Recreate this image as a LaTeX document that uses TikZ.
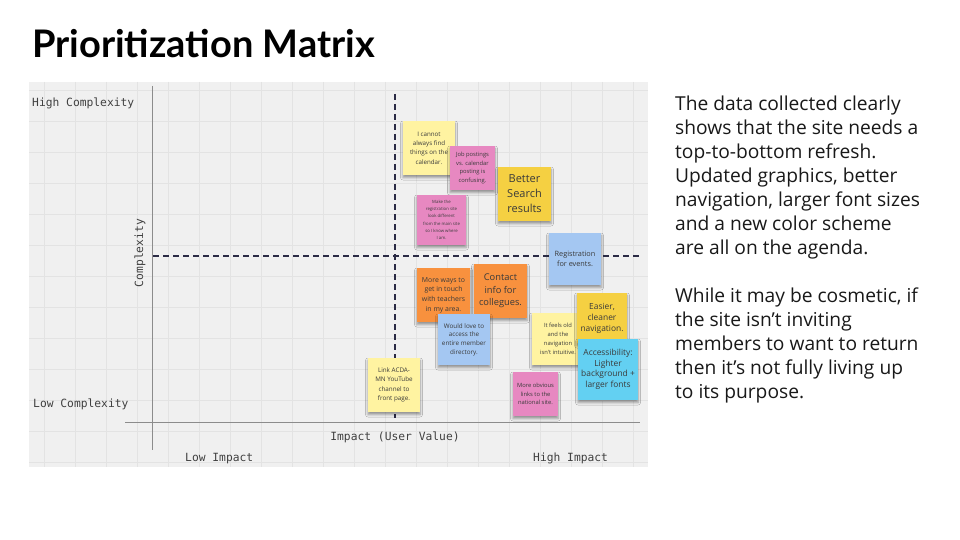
\documentclass[tikz,border=0pt]{standalone}
\usepackage{fontspec}
\setmainfont{Lato}
\newfontfamily\notefont{Open Sans}
\newfontfamily\labelfont{DejaVu Sans Mono}
\usetikzlibrary{shadows.blur}
\definecolor{bggray}{HTML}{F0F0F0}
\definecolor{gridgray}{HTML}{E3E3E3}
\definecolor{axisgray}{HTML}{8C8C8C}
\definecolor{dashnavy}{HTML}{2B2B45}
\definecolor{labelgray}{HTML}{404040}
\definecolor{notetext}{HTML}{3A3A3A}
\definecolor{paleyellow}{HTML}{FFF3A1}
\definecolor{pinknote}{HTML}{E788C1}
\definecolor{goldnote}{HTML}{F5D042}
\definecolor{bluenote}{HTML}{A4C7F2}
\definecolor{orangenote}{HTML}{F8913E}
\definecolor{cyannote}{HTML}{63D0F2}
\begin{document}
\begin{tikzpicture}[x=1pt,y=-1pt,
  sticky/.style={rectangle, fill=#1, inner sep=0pt, align=center, text=notetext,
    blur shadow={shadow xshift=0pt, shadow yshift=-2.5pt, shadow blur radius=2.5pt, shadow opacity=40}},
  axislabel/.style={inner sep=0pt, text=labelgray, font=\labelfont\fontsize{11.3}{13}\selectfont},
  axisline/.style={draw=axisgray, line width=0.9pt},
  quadline/.style={draw=dashnavy, line width=1.5pt, dash pattern=on 6pt off 4pt},
  bodytext/.style={anchor=north west, inner sep=0pt, align=left, text=black!90, font=\notefont\fontsize{19.2}{24}\selectfont}]
\useasboundingbox (0,0) rectangle (960,540);
\fill[white] (0,0) rectangle (960,540);

% title
\node[anchor=base west, inner sep=0pt, font=\bfseries\fontsize{38}{40}\selectfont] (title) at (32,58) {Prioritization Matrix};

% matrix background and grid
\fill[bggray] (29,82) rectangle (648,467);
\begin{scope}
\clip (29,82) rectangle (648,467);
\foreach \gx in {44,75,...,648} \draw[gridgray, line width=0.8pt] (\gx,82) -- (\gx,467);
\foreach \gy in {90,121,...,467} \draw[gridgray, line width=0.8pt] (29,\gy) -- (648,\gy);
\end{scope}

% axes
\coordinate (vtop) at (152,86);
\coordinate (vbot) at (152,450);
\coordinate (hleft) at (125,422);
\coordinate (hright) at (640,422);
\draw[axisline] (vtop) -- (vbot);
\draw[axisline] (hleft) -- (hright);

% quadrant dividers
\coordinate (dvtop) at (395,94);
\coordinate (dvbot) at (395,418);
\coordinate (dhleft) at (153,256);
\coordinate (dhright) at (640,256);
\draw[quadline] (dvtop) -- (dvbot);
\draw[quadline] (dhleft) -- (dhright);

% axis labels
\node[axislabel, anchor=base west] (highc) at (32,107) {High Complexity};
\node[axislabel, anchor=base west] (lowc) at (33,407) {Low Complexity};
\node[axislabel, rotate=90, anchor=base] (compl) at (143,253) {Complexity};
\node[axislabel, anchor=base] (impact) at (395,440) {Impact (User Value)};
\node[axislabel, anchor=base west] (lowi) at (185,461) {Low Impact};
\node[axislabel, anchor=base west] (highi) at (533,461) {High Impact};

% sticky notes
\node[sticky=paleyellow, minimum width=52, minimum height=54, font=\notefont\fontsize{6.2}{9.3}\selectfont] (n1) at (429,148) {I cannot\\always find\\things on the\\calendar.};
\node[sticky=pinknote, minimum width=45, minimum height=44, font=\notefont\fontsize{5.8}{8.6}\selectfont] (n2) at (472.5,168) {Job postings\\vs. calendar\\posting is\\confusing.};
\node[sticky=goldnote, minimum width=53, minimum height=54, font=\notefont\fontsize{11}{15}\selectfont] (n3) at (524.5,194) {Better\\Search\\results};
\node[sticky=pinknote, minimum width=49, minimum height=50, font=\notefont\fontsize{4.3}{7.3}\selectfont] (n4) at (441.5,220) {Make the\\registration site\\look different\\from the main site\\so I know where\\I am.};
\node[sticky=bluenote, minimum width=52, minimum height=52, font=\notefont\fontsize{7.3}{10.5}\selectfont] (n5) at (575,259) {Registration\\for events.};
\node[sticky=orangenote, minimum width=53, minimum height=54, font=\notefont\fontsize{6.9}{9.6}\selectfont] (n6) at (443.5,295) {More ways to\\get in touch\\with teachers\\in my area.};
\node[sticky=orangenote, minimum width=53, minimum height=54, font=\notefont\fontsize{9.3}{12.7}\selectfont] (n7) at (500.5,291) {Contact\\info for\\collegues.};
\node[sticky=bluenote, minimum width=52, minimum height=51, font=\notefont\fontsize{6.3}{8.7}\selectfont] (n8) at (464,339.5) {Would love to\\access the\\entire member\\directory.};
\node[sticky=paleyellow, minimum width=52, minimum height=54, font=\notefont\fontsize{6.3}{9.5}\selectfont] (n13) at (394,385) {Link ACDA-\\MN YouTube\\channel to\\front page.};
\node[sticky=paleyellow, minimum width=52, minimum height=52, font=\notefont\fontsize{5.8}{9}\selectfont] (n9) at (558,339) {It feels old\\and the\\navigation\\isn't intuitive.};
\node[sticky=goldnote, minimum width=50, minimum height=50, font=\notefont\fontsize{8.4}{11}\selectfont] (n10) at (602,318) {Easier,\\cleaner\\navigation.};
\node[sticky=cyannote, minimum width=60, minimum height=61, font=\notefont\fontsize{8.4}{10.6}\selectfont] (n11) at (608,369.5) {Accessibility:\\Lighter\\background +\\larger fonts};
\node[sticky=pinknote, minimum width=45, minimum height=44, font=\notefont\fontsize{5.8}{8.2}\selectfont] (n12) at (535.5,394) {More obvious\\links to the\\national site.};

% right-hand text
\node[bodytext] (para1) at (675,96) {The data collected clearly\\shows that the site needs a\\top-to-bottom refresh.\\Updated graphics, better\\navigation, larger font sizes\\and a new color scheme\\are all on the agenda.};
\node[bodytext] (para2) at (675,288) {While it may be cosmetic, if\\the site isn’t inviting\\members to want to return\\then it’s not fully living up\\to its purpose.};
\end{tikzpicture}
\end{document}
